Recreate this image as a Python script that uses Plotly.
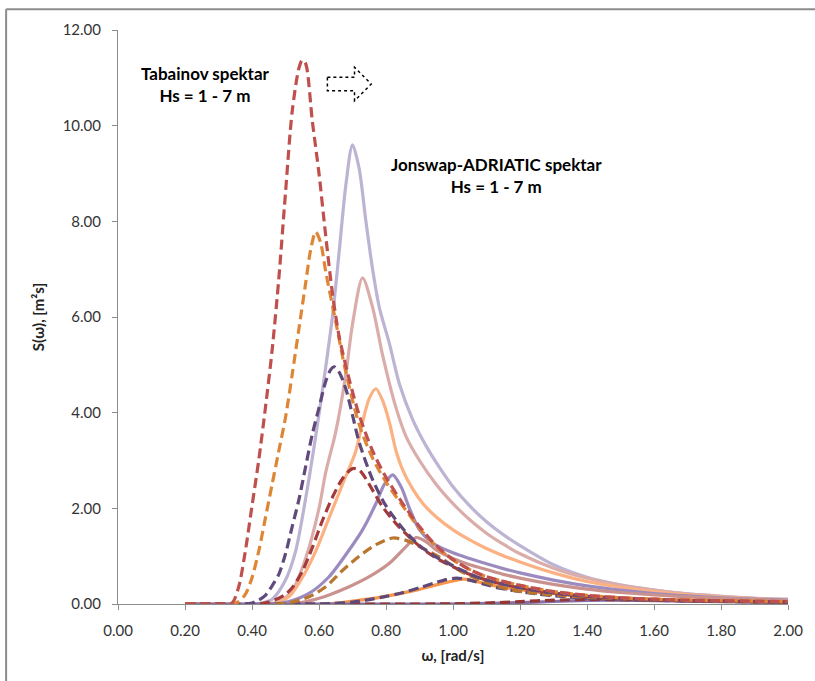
import plotly.graph_objects as go

# ---------------- Tabainov spectrum (dashed), Hs = 7 ... 1 m ----------------
w_tab7 = [0.20, 0.30, 0.34, 0.36, 0.38, 0.40, 0.42, 0.44, 0.46, 0.48, 0.50, 0.52, 0.54, 0.55, 0.56, 0.58,
          0.60, 0.62, 0.64, 0.66, 0.69, 0.72, 0.76, 0.80, 0.85, 0.90, 0.95, 1.00, 1.05, 1.10, 1.20,
          1.30, 1.40, 1.50, 1.60, 1.70, 1.80, 1.90, 2.00]
s_tab7 = [0.0, 0.0, 0.02, 0.35, 1.1, 2.05, 3.0, 4.1, 5.3, 6.8, 8.6, 10.3, 11.2, 11.37, 11.3, 10.1,
          9.0, 7.7, 6.5, 5.6, 4.7, 3.95, 3.2, 2.65, 2.1, 1.62, 1.22, 0.93, 0.72, 0.57, 0.39,
          0.26, 0.18, 0.13, 0.10, 0.08, 0.07, 0.06, 0.05]

w_tab6 = [0.20, 0.34, 0.36, 0.38, 0.40, 0.42, 0.44, 0.46, 0.48, 0.50, 0.52, 0.54, 0.56, 0.575, 0.59,
          0.605, 0.62, 0.65, 0.68, 0.72, 0.76, 0.80, 0.85, 0.90, 0.95, 1.00, 1.05, 1.10, 1.20,
          1.30, 1.40, 1.50, 1.60, 1.70, 1.80, 1.90, 2.00]
s_tab6 = [0.0, 0.0, 0.05, 0.2, 0.55, 1.1, 1.8, 2.5, 3.2, 3.9, 4.8, 5.75, 6.7, 7.4, 7.78,
          7.55, 6.95, 5.9, 4.85, 3.75, 3.05, 2.55, 2.05, 1.58, 1.2, 0.92, 0.72, 0.57, 0.39,
          0.26, 0.18, 0.13, 0.10, 0.08, 0.07, 0.06, 0.05]

w_tab5 = [0.20, 0.38, 0.40, 0.42, 0.44, 0.46, 0.48, 0.50, 0.52, 0.54, 0.56, 0.58, 0.60, 0.62, 0.635,
          0.645, 0.66, 0.68, 0.70, 0.72, 0.76, 0.80, 0.85, 0.90, 0.95, 1.00, 1.05, 1.10, 1.20,
          1.30, 1.40, 1.50, 1.60, 1.70, 1.80, 1.90, 2.00]
s_tab5 = [0.0, 0.0, 0.02, 0.08, 0.18, 0.38, 0.62, 1.05, 1.62, 2.18, 2.87, 3.55, 4.1, 4.65, 4.9,
          4.96, 4.85, 4.5, 3.95, 3.38, 2.6, 2.05, 1.58, 1.22, 0.98, 0.8, 0.63, 0.5, 0.34,
          0.23, 0.16, 0.12, 0.09, 0.07, 0.06, 0.05, 0.04]

w_tab4 = [0.20, 0.42, 0.45, 0.48, 0.50, 0.52, 0.55, 0.58, 0.61, 0.64, 0.67, 0.70, 0.72, 0.74, 0.76,
          0.79, 0.83, 0.88, 0.92, 0.96, 1.00, 1.05, 1.10, 1.20, 1.30, 1.40, 1.50, 1.60, 1.70,
          1.80, 1.90, 2.00]
s_tab4 = [0.0, 0.0, 0.04, 0.12, 0.2, 0.34, 0.68, 1.18, 1.74, 2.23, 2.62, 2.83, 2.8, 2.62, 2.38,
          2.03, 1.68, 1.33, 1.1, 0.92, 0.78, 0.62, 0.5, 0.34, 0.23, 0.16, 0.12, 0.09, 0.07,
          0.06, 0.05, 0.04]

w_tab3 = [0.20, 0.48, 0.52, 0.57, 0.62, 0.67, 0.72, 0.77, 0.82, 0.86, 0.90, 0.96, 1.02, 1.09, 1.17,
          1.25, 1.30, 1.40, 1.50, 1.60, 1.70, 1.80, 1.90, 2.00]
s_tab3 = [0.0, 0.0, 0.04, 0.15, 0.36, 0.7, 1.0, 1.24, 1.38, 1.33, 1.2, 0.98, 0.7, 0.47, 0.3,
          0.22, 0.19, 0.14, 0.11, 0.085, 0.07, 0.055, 0.045, 0.04]

w_tab2 = [0.20, 0.60, 0.64, 0.70, 0.74, 0.80, 0.84, 0.90, 0.94, 0.98, 1.01, 1.05, 1.09, 1.14, 1.24,
          1.34, 1.44, 1.50, 1.60, 1.70, 1.80, 1.90, 2.00]
s_tab2 = [0.0, 0.0, 0.01, 0.04, 0.08, 0.16, 0.22, 0.34, 0.43, 0.51, 0.54, 0.5, 0.42, 0.33, 0.22,
          0.15, 0.11, 0.10, 0.08, 0.065, 0.055, 0.045, 0.04]

w_tab1 = [0.20, 0.90, 1.00, 1.10, 1.20, 1.30, 1.40, 1.50, 1.60, 1.70, 1.80, 1.90, 2.00]
s_tab1 = [0.0, 0.0, 0.005, 0.02, 0.05, 0.08, 0.095, 0.09, 0.08, 0.07, 0.06, 0.05, 0.045]

# ---------------- Jonswap-ADRIATIC spectrum (solid), Hs = 7 ... 1 m ----------------
w_jon7 = [0.20, 0.40, 0.42, 0.46, 0.50, 0.53, 0.56, 0.59, 0.62, 0.64, 0.66, 0.68, 0.70, 0.72, 0.74,
          0.76, 0.78, 0.81, 0.84, 0.88, 0.92, 0.96, 1.00, 1.05, 1.10, 1.15, 1.20, 1.30, 1.40,
          1.50, 1.60, 1.70, 1.80, 1.90, 2.00]
s_jon7 = [0.0, 0.0, 0.01, 0.1, 0.5, 1.1, 2.2, 3.5, 4.95, 6.0, 7.35, 8.75, 9.6, 9.1, 8.0,
          7.0, 6.2, 5.45, 4.6, 3.85, 3.3, 2.85, 2.45, 2.05, 1.72, 1.45, 1.22, 0.82, 0.56,
          0.40, 0.29, 0.21, 0.16, 0.12, 0.10]

w_jon6 = [0.20, 0.44, 0.48, 0.52, 0.56, 0.60, 0.62, 0.65, 0.68, 0.70, 0.73, 0.76, 0.79, 0.83, 0.86,
          0.90, 0.95, 1.00, 1.05, 1.10, 1.15, 1.20, 1.30, 1.40, 1.50, 1.60, 1.70, 1.80, 1.90, 2.00]
s_jon6 = [0.0, 0.0, 0.05, 0.28, 0.95, 2.0, 2.75, 3.6, 4.8, 5.85, 6.82, 6.2, 5.2, 4.1, 3.5,
          3.0, 2.5, 2.1, 1.76, 1.48, 1.25, 1.05, 0.75, 0.54, 0.39, 0.29, 0.21, 0.16, 0.12, 0.09]

w_jon5 = [0.20, 0.46, 0.51, 0.55, 0.59, 0.63, 0.67, 0.71, 0.73, 0.75, 0.77, 0.79, 0.81, 0.83, 0.85,
          0.88, 0.91, 0.95, 1.00, 1.05, 1.10, 1.15, 1.20, 1.30, 1.40, 1.50, 1.60, 1.70, 1.80,
          1.90, 2.00]
s_jon5 = [0.0, 0.0, 0.15, 0.55, 1.1, 1.8, 2.5, 3.2, 3.8, 4.3, 4.5, 4.25, 3.8, 3.2, 2.8,
          2.4, 2.1, 1.82, 1.55, 1.34, 1.16, 1.01, 0.88, 0.65, 0.47, 0.35, 0.26, 0.19, 0.14,
          0.11, 0.08]

w_jon4 = [0.20, 0.46, 0.51, 0.57, 0.63, 0.69, 0.73, 0.77, 0.795, 0.82, 0.845, 0.87, 0.90, 0.94, 1.00,
          1.05, 1.10, 1.15, 1.20, 1.30, 1.40, 1.50, 1.60, 1.70, 1.80, 1.90, 2.00]
s_jon4 = [0.0, 0.0, 0.05, 0.22, 0.57, 1.13, 1.55, 2.1, 2.5, 2.7, 2.45, 2.0, 1.55, 1.27, 1.07,
          0.95, 0.84, 0.74, 0.65, 0.5, 0.38, 0.29, 0.22, 0.17, 0.13, 0.10, 0.08]

w_jon3 = [0.20, 0.52, 0.58, 0.63, 0.69, 0.75, 0.81, 0.86, 0.89, 0.92, 0.95, 1.00, 1.05, 1.10, 1.15,
          1.20, 1.30, 1.40, 1.50, 1.60, 1.70, 1.80, 1.90, 2.00]
s_jon3 = [0.0, 0.0, 0.08, 0.19, 0.36, 0.57, 0.85, 1.2, 1.39, 1.3, 1.13, 0.95, 0.82, 0.72, 0.62,
          0.54, 0.41, 0.31, 0.24, 0.19, 0.15, 0.12, 0.09, 0.07]

w_jon2 = [0.20, 0.62, 0.69, 0.79, 0.89, 0.95, 1.00, 1.03, 1.06, 1.10, 1.14, 1.20, 1.24, 1.30, 1.40,
          1.50, 1.60, 1.70, 1.80, 1.90, 2.00]
s_jon2 = [0.0, 0.0, 0.05, 0.15, 0.29, 0.4, 0.48, 0.52, 0.49, 0.42, 0.36, 0.3, 0.26, 0.22, 0.16,
          0.13, 0.10, 0.08, 0.065, 0.055, 0.045]

w_jon1 = [0.20, 0.95, 1.05, 1.15, 1.25, 1.35, 1.45, 1.55, 1.65, 1.80, 2.00]
s_jon1 = [0.0, 0.0, 0.005, 0.02, 0.04, 0.065, 0.08, 0.075, 0.065, 0.05, 0.035]

x_ticks = [0.0, 0.2, 0.4, 0.6, 0.8, 1.0, 1.2, 1.4, 1.6, 1.8, 2.0]
y_ticks = [0, 2, 4, 6, 8, 10, 12]

jonswap = [
    ("Jonswap Hs=7 m", w_jon7, s_jon7, "#BDB3D3"),
    ("Jonswap Hs=6 m", w_jon6, s_jon6, "#DBADAA"),
    ("Jonswap Hs=5 m", w_jon5, s_jon5, "#FBB182"),
    ("Jonswap Hs=4 m", w_jon4, s_jon4, "#9B8BBF"),
    ("Jonswap Hs=3 m", w_jon3, s_jon3, "#C9928F"),
    ("Jonswap Hs=2 m", w_jon2, s_jon2, "#F7964A"),
    ("Jonswap Hs=1 m", w_jon1, s_jon1, "#8570A8"),
]
tabainov = [
    ("Tabainov Hs=1 m", w_tab1, s_tab1, "#943634"),
    ("Tabainov Hs=2 m", w_tab2, s_tab2, "#5F497A"),
    ("Tabainov Hs=3 m", w_tab3, s_tab3, "#B8762E"),
    ("Tabainov Hs=4 m", w_tab4, s_tab4, "#A33B3A"),
    ("Tabainov Hs=5 m", w_tab5, s_tab5, "#604A7B"),
    ("Tabainov Hs=6 m", w_tab6, s_tab6, "#DF8636"),
    ("Tabainov Hs=7 m", w_tab7, s_tab7, "#C0504D"),
]

fig = go.Figure()
for name, w, s, c in jonswap:
    fig.add_trace(go.Scatter(x=w, y=s, mode="lines", name=name,
                             line=dict(color=c, width=3.2, shape="spline", smoothing=0.8)))
for name, w, s, c in tabainov:
    fig.add_trace(go.Scatter(x=w, y=s, mode="lines", name=name,
                             line=dict(color=c, width=3.2, dash="10px,5px", shape="spline", smoothing=0.8)))

FONT = "Lato"
tick_font = dict(family=FONT, size=15, color="#333333")

fig.update_layout(
    width=815, height=681,
    margin=dict(l=118, r=25, t=30, b=77),
    paper_bgcolor="white", plot_bgcolor="white",
    showlegend=False,
    xaxis=dict(range=[0, 2], tickvals=x_ticks, tickformat=".2f", showgrid=False, zeroline=False,
               showline=True, linecolor="#8C8C8C", linewidth=1, ticks="outside", ticklen=5,
               tickcolor="#8C8C8C", tickfont=tick_font, ticklabelstandoff=8,
               title=dict(text="<b>ω, [rad/s]</b>", font=dict(family=FONT, size=15, color="#222"),
                          standoff=12)),
    yaxis=dict(range=[0, 12], tickvals=y_ticks, tickformat=".2f", showgrid=False, zeroline=False,
               showline=True, linecolor="#8C8C8C", linewidth=1, ticks="outside", ticklen=5,
               tickcolor="#8C8C8C", tickfont=tick_font, ticklabelstandoff=8,
               title=dict(text="<b>S(ω), [m²s]</b>", font=dict(family=FONT, size=15, color="#222"),
                          standoff=14)),
    annotations=[
        dict(x=0.262, y=10.87, xref="x", yref="y", showarrow=False, align="center",
             text="<b>Tabainov spektar<br>Hs = 1 - 7 m</b>",
             font=dict(family=FONT, size=17, color="black")),
        dict(x=1.13, y=8.96, xref="x", yref="y", showarrow=False, align="center",
             text="<b>Jonswap-ADRIATIC spektar<br>Hs = 1 - 7 m</b>",
             font=dict(family=FONT, size=17, color="black")),
    ],
    shapes=[
        # dotted block arrow
        dict(type="path", xref="x", yref="y",
             path="M 0.625 11.01 L 0.706 11.01 L 0.706 11.22 L 0.756 10.87 L 0.706 10.52 "
                  "L 0.706 10.73 L 0.625 10.73 Z",
             line=dict(color="black", width=1.5, dash="dot"), fillcolor="rgba(0,0,0,0)"),
        # chart area border (left and top edges of the chart frame)
        dict(type="line", xref="paper", yref="paper", x0=-0.167, x1=1.34, y0=1.036, y1=1.036,
             line=dict(color="#8C8C8C", width=2), layer="above"),
        dict(type="line", xref="paper", yref="paper", x0=-0.167, x1=-0.167, y0=-0.2, y1=1.036,
             line=dict(color="#8C8C8C", width=2), layer="above"),
    ],
)

fig.write_html("out.html", config={"displayModeBar": False},
               post_script="document.body.style.margin='0';document.body.style.overflow='hidden';"
                           "window.dispatchEvent(new Event('resize'));")
